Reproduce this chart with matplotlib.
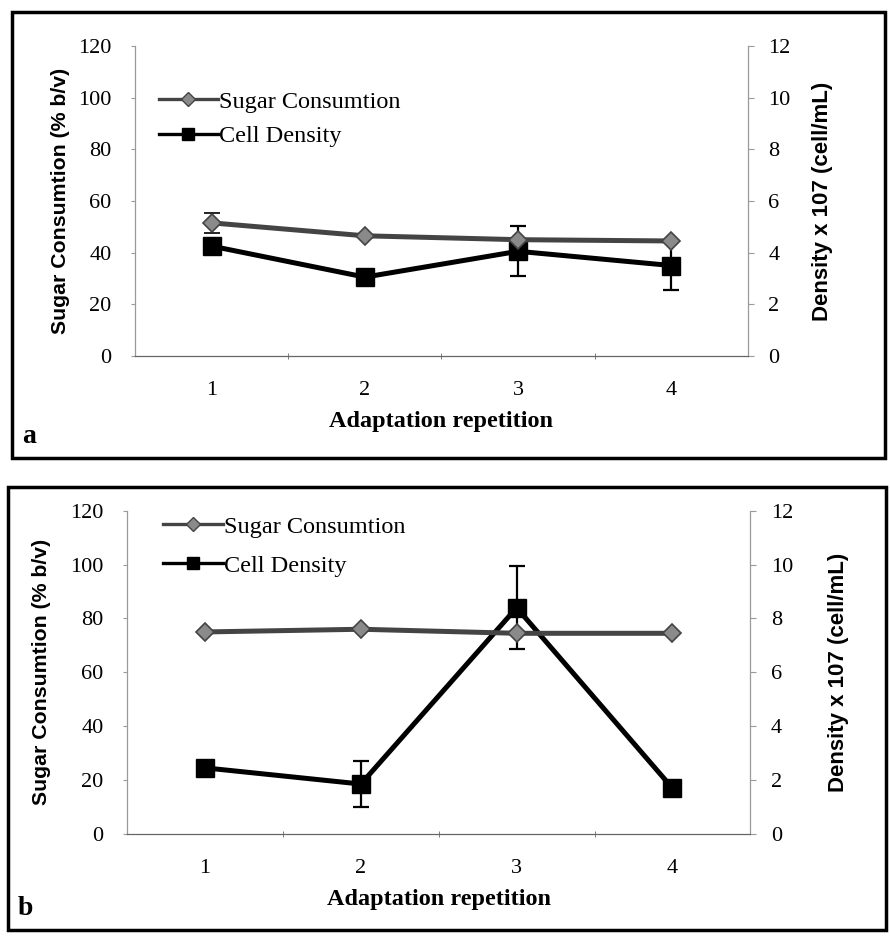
import matplotlib.pyplot as plt
from matplotlib.lines import Line2D
from matplotlib.patches import Rectangle

# adaptation repetitions
reps = [1, 2, 3, 4]

# panel a
sugar_a = [51.5, 46.5, 45.0, 44.5]
sugar_a_err = [4.0, 0.0, 0.0, 0.0]
cells_a = [4.25, 3.05, 4.05, 3.5]
cells_a_err = [0.0, 0.0, 0.97, 0.96]

# panel b
sugar_b = [75.0, 76.0, 74.5, 74.5]
sugar_b_err = [0.0, 0.0, 0.0, 0.0]
cells_b = [2.45, 1.85, 8.4, 1.7]
cells_b_err = [0.0, 0.85, 1.55, 0.0]

left_ticks = [0, 20, 40, 60, 80, 100, 120]
right_ticks = [0, 2, 4, 6, 8, 10, 12]

SERIF = "Liberation Serif"
SANS = "Liberation Sans"
SUGAR_LINE = "#444444"
SUGAR_FACE = "#8a8a8a"
AXIS_GREY = "#9a9a9a"


def draw_panel(fig, rect, sugar, sugar_err, cells, cells_err, letter, box,
               leg_anchor, leg_space, lpad, rpad):
    ax = fig.add_axes(rect)
    ax2 = ax.twinx()
    ax.set_zorder(ax2.get_zorder() + 1)
    ax.patch.set_visible(False)

    ax2.errorbar(reps, cells, yerr=cells_err, color="black", lw=3.6, marker="s",
                 ms=13, mfc="black", mec="black", ecolor="black", elinewidth=1.6,
                 capsize=6, capthick=1.6)
    ax.errorbar(reps, sugar, yerr=sugar_err, color=SUGAR_LINE, lw=3.6, marker="D",
                ms=9, mfc=SUGAR_FACE, mec=SUGAR_LINE, mew=1.2, ecolor="black",
                elinewidth=1.6, capsize=6, capthick=1.6)

    ax.set_xlim(0.5, 4.5)
    ax.set_ylim(0, 120)
    ax2.set_ylim(0, 12)
    ax.set_xticks(reps)
    ax.set_xticks([1.5, 2.5, 3.5], minor=True)
    ax.set_yticks(left_ticks)
    ax2.set_yticks(right_ticks)

    for a in (ax, ax2):
        for s in a.spines.values():
            s.set_visible(False)
    ax.spines["left"].set_visible(True)
    ax.spines["bottom"].set_visible(True)
    ax2.spines["right"].set_visible(True)
    ax.spines["left"].set_color(AXIS_GREY)
    ax.spines["bottom"].set_color("#666666")
    ax2.spines["right"].set_color(AXIS_GREY)
    for s in (ax.spines["left"], ax.spines["bottom"], ax2.spines["right"]):
        s.set_linewidth(0.9)

    ax.tick_params(axis="y", length=3, color=AXIS_GREY, labelsize=16, pad=14)
    ax.tick_params(axis="x", which="major", length=0, labelsize=16, pad=18)
    ax.tick_params(axis="x", which="minor", length=4, direction="inout", color="#666666")
    ax2.tick_params(axis="y", length=4, color=AXIS_GREY, labelsize=16, pad=11)
    for lbl in ax.get_xticklabels() + ax.get_yticklabels() + ax2.get_yticklabels():
        lbl.set_fontfamily(SERIF)

    ax.set_xlabel("Adaptation repetition", fontfamily=SERIF, fontweight="bold",
                  fontsize=17.5, labelpad=8)
    ax.set_ylabel("Sugar Consumtion (% b/v)", fontfamily=SANS, fontweight="bold",
                  fontsize=15.3, labelpad=lpad)
    ax2.set_ylabel("Density x 107 (cell/mL)", fontfamily=SANS, fontweight="bold",
                   fontsize=16, labelpad=rpad)

    handles = [
        Line2D([], [], color=SUGAR_LINE, lw=2.4, marker="D", ms=7,
               mfc=SUGAR_FACE, mec=SUGAR_LINE),
        Line2D([], [], color="black", lw=2.4, marker="s", ms=9, mfc="black"),
    ]
    ax.legend(handles, ["Sugar Consumtion", "Cell Density"], loc="upper left",
              bbox_to_anchor=leg_anchor, frameon=False, handlelength=2.45,
              handletextpad=0.05, borderpad=0, borderaxespad=0,
              labelspacing=leg_space, prop={"family": SERIF, "size": 17.5})

    fig.patches.append(Rectangle((box[0], box[1]), box[2], box[3], transform=fig.transFigure,
                                 fill=False, edgecolor="black", lw=2.5))
    fig.text(box[0] + 0.011, box[1] + 0.01, letter, fontfamily=SERIF, fontweight="bold",
             fontsize=20, ha="left", va="bottom")
    return ax


fig = plt.figure(figsize=(8.9, 9.39), dpi=100)

draw_panel(fig, [0.152, 0.621, 0.688, 0.330], sugar_a, sugar_a_err, cells_a, cells_a_err,
           "a", (0.0135, 0.512, 0.981, 0.475), (0.038, 0.855), 0.5, 6, 15)
draw_panel(fig, [0.143, 0.112, 0.700, 0.344], sugar_b, sugar_b_err, cells_b, cells_b_err,
           "b", (0.009, 0.0096, 0.9865, 0.4718), (0.058, 0.985), 0.7, 14, 25)

fig.savefig("out.png", dpi=100)
